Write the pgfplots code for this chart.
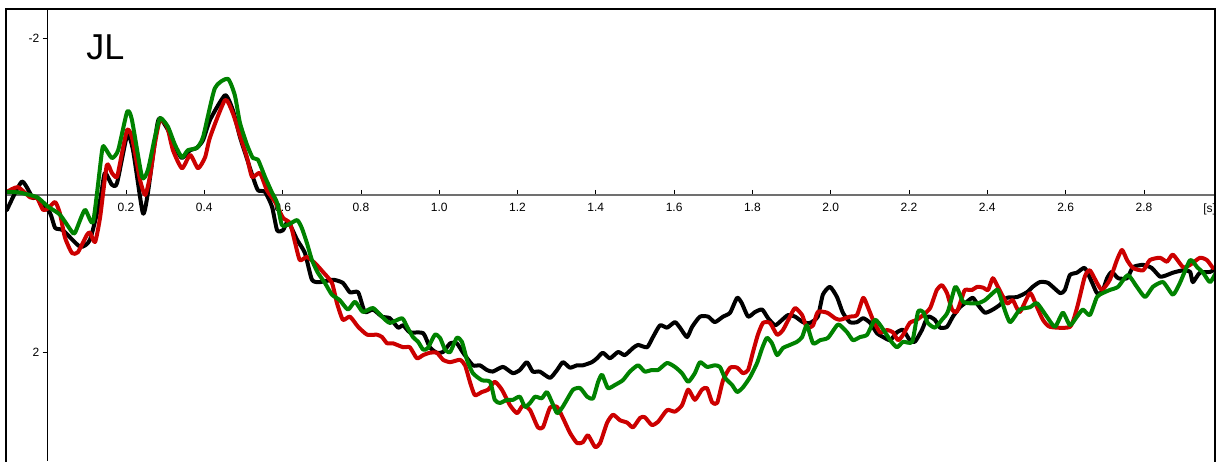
\documentclass[border=0pt]{standalone}
\usepackage{fontspec}
\setmainfont{Liberation Sans}
\usepackage{pgfplots}
\pgfplotsset{compat=1.18}
\usetikzlibrary{calc}
\definecolor{cRed}{RGB}{204,0,0}
\definecolor{cGreen}{RGB}{0,130,0}
\definecolor{cAxis}{RGB}{112,112,112}
\begin{document}
\begin{tikzpicture}
\begin{axis}[name=ax, scale only axis, width=604.5pt, height=226pt,
  xmin=-0.1065, xmax=2.9816, ymin=-2.369, ymax=3.389, y dir=reverse,
  axis lines=middle, axis line style={-},
  x axis line style={cAxis, line width=0.8pt},
  y axis line style={black, line width=0.5pt},
  xtick={0.2,0.4,0.6,0.8,1.0,1.2,1.4,1.6,1.8,2.0,2.2,2.4,2.6,2.8},
  xticklabels={0.2,0.4,0.6,0.8,1.0,1.2,1.4,1.6,1.8,2.0,2.2,2.4,2.6,2.8},
  ytick={-2,2}, yticklabels={-2,2},
  tick style={black, line width=0.4pt}, major tick length=2.5pt, tick align=outside,
  ticklabel style={font=\fontsize{6}{7}\selectfont, inner sep=0pt},
  xticklabel style={yshift=-1.5pt}, yticklabel style={xshift=-1.5pt},
  clip=true,
  every axis plot/.append style={line width=2pt, line join=round, line cap=round, smooth, tension=0.35},
]
\addplot[black] coordinates {(-0.104,0.19) (-0.066,-0.17) (-0.038,0.04) (-0.027,0.03) (0.006,0.23) (0.019,0.42) (0.039,0.45) (0.083,0.66) (0.108,0.57) (0.134,0.06) (0.146,-0.28) (0.164,-0.13) (0.177,-0.15) (0.203,-0.76) (0.218,-0.57) (0.243,0.23) (0.256,-0.03) (0.279,-0.87) (0.287,-0.98) (0.307,-0.83) (0.330,-0.57) (0.343,-0.47) (0.364,-0.57) (0.381,-0.60) (0.397,-0.70) (0.415,-0.96) (0.453,-1.27) (0.473,-1.08) (0.491,-0.74) (0.504,-0.54) (0.524,-0.23) (0.537,-0.06) (0.555,-0.04) (0.573,0.15) (0.586,0.45) (0.601,0.45) (0.614,0.34) (0.637,0.57) (0.657,0.74) (0.675,1.08) (0.695,1.11) (0.729,1.08) (0.754,1.12) (0.772,1.24) (0.793,1.24) (0.810,1.49) (0.831,1.46) (0.854,1.55) (0.874,1.57) (0.895,1.69) (0.908,1.66) (0.925,1.75) (0.959,1.76) (0.976,1.94) (0.994,2.01) (1.010,2.00) (1.028,1.89) (1.045,1.89) (1.061,2.01) (1.086,2.17) (1.104,2.17) (1.122,2.23) (1.137,2.25) (1.163,2.19) (1.188,2.27) (1.206,2.23) (1.224,2.13) (1.239,2.25) (1.257,2.25) (1.283,2.33) (1.301,2.23) (1.316,2.13) (1.334,2.20) (1.352,2.17) (1.367,2.17) (1.390,2.13) (1.403,2.08) (1.418,2.01) (1.436,2.08) (1.457,2.00) (1.474,2.04) (1.495,1.95) (1.508,1.91) (1.531,1.94) (1.546,1.81) (1.564,1.66) (1.582,1.69) (1.602,1.62) (1.615,1.69) (1.633,1.81) (1.646,1.68) (1.666,1.55) (1.687,1.55) (1.704,1.62) (1.725,1.55) (1.743,1.50) (1.761,1.31) (1.773,1.38) (1.789,1.55) (1.807,1.49) (1.825,1.46) (1.840,1.57) (1.858,1.66) (1.876,1.59) (1.891,1.53) (1.909,1.55) (1.929,1.62) (1.947,1.63) (1.967,1.55) (1.980,1.27) (1.998,1.17) (2.016,1.30) (2.031,1.50) (2.049,1.62) (2.067,1.62) (2.083,1.57) (2.101,1.63) (2.118,1.76) (2.134,1.81) (2.152,1.85) (2.169,1.75) (2.185,1.72) (2.202,1.85) (2.215,1.87) (2.233,1.72) (2.248,1.55) (2.266,1.59) (2.279,1.69) (2.297,1.68) (2.312,1.55) (2.330,1.43) (2.348,1.36) (2.363,1.31) (2.376,1.40) (2.394,1.50) (2.414,1.46) (2.432,1.40) (2.450,1.31) (2.476,1.30) (2.501,1.24) (2.516,1.17) (2.534,1.11) (2.555,1.12) (2.586,1.25) (2.598,1.21) (2.611,1.02) (2.629,0.99) (2.649,0.93) (2.667,1.11) (2.680,1.25) (2.693,1.24) (2.706,1.06) (2.718,0.98) (2.734,1.06) (2.757,1.06) (2.772,0.92) (2.798,0.89) (2.820,0.93) (2.841,1.04) (2.859,1.02) (2.874,0.99) (2.900,0.96) (2.918,0.98) (2.925,1.11) (2.943,0.99) (2.969,0.98) (2.987,0.93)};
\addplot[cRed] coordinates {(-0.104,-0.04) (-0.076,-0.10) (-0.045,0.03) (-0.027,0.04) (-0.012,0.19) (0.001,0.17) (0.019,0.09) (0.031,0.23) (0.044,0.54) (0.062,0.74) (0.077,0.73) (0.100,0.51) (0.108,0.48) (0.121,0.60) (0.134,0.28) (0.151,-0.38) (0.164,-0.28) (0.177,-0.23) (0.190,-0.54) (0.203,-0.83) (0.215,-0.74) (0.236,-0.19) (0.249,0) (0.261,-0.23) (0.274,-0.66) (0.287,-0.96) (0.305,-0.87) (0.320,-0.57) (0.343,-0.34) (0.364,-0.51) (0.384,-0.34) (0.402,-0.48) (0.415,-0.74) (0.453,-1.21) (0.473,-1.04) (0.491,-0.76) (0.509,-0.48) (0.522,-0.23) (0.542,-0.28) (0.560,-0.06) (0.581,0.09) (0.601,0.29) (0.619,0.36) (0.632,0.61) (0.644,0.83) (0.662,0.79) (0.683,0.87) (0.703,0.98) (0.726,1.12) (0.739,1.38) (0.754,1.59) (0.772,1.55) (0.793,1.68) (0.816,1.78) (0.841,1.78) (0.854,1.81) (0.867,1.89) (0.882,1.89) (0.908,1.94) (0.925,1.94) (0.943,2.08) (0.959,2.04) (0.976,2.01) (0.994,2.01) (1.010,2.10) (1.028,2.13) (1.053,2.10) (1.066,2.17) (1.079,2.39) (1.091,2.55) (1.109,2.51) (1.125,2.48) (1.142,2.38) (1.160,2.48) (1.181,2.68) (1.199,2.78) (1.214,2.68) (1.232,2.74) (1.252,2.96) (1.265,2.96) (1.283,2.71) (1.301,2.70) (1.316,2.84) (1.334,3.03) (1.352,3.16) (1.367,3.15) (1.380,3.06) (1.398,3.21) (1.411,3.16) (1.429,2.90) (1.444,2.80) (1.462,2.87) (1.480,2.90) (1.495,2.96) (1.513,2.84) (1.525,2.83) (1.543,2.93) (1.559,2.89) (1.582,2.74) (1.602,2.76) (1.620,2.68) (1.636,2.48) (1.653,2.61) (1.671,2.48) (1.684,2.46) (1.697,2.64) (1.710,2.65) (1.725,2.36) (1.743,2.20) (1.761,2.20) (1.776,2.27) (1.789,2.23) (1.801,2.01) (1.814,1.78) (1.827,1.63) (1.845,1.63) (1.863,1.78) (1.878,1.72) (1.896,1.55) (1.909,1.44) (1.927,1.53) (1.939,1.69) (1.955,1.66) (1.967,1.49) (1.991,1.50) (2.011,1.57) (2.024,1.59) (2.049,1.55) (2.067,1.53) (2.083,1.31) (2.095,1.43) (2.108,1.59) (2.126,1.75) (2.144,1.72) (2.159,1.75) (2.172,1.85) (2.185,1.78) (2.202,1.63) (2.220,1.59) (2.236,1.53) (2.254,1.44) (2.271,1.21) (2.284,1.15) (2.297,1.25) (2.310,1.46) (2.322,1.49) (2.335,1.31) (2.343,1.21) (2.361,1.21) (2.374,1.17) (2.389,1.18) (2.402,1.21) (2.414,1.06) (2.427,1.17) (2.450,1.38) (2.465,1.34) (2.483,1.49) (2.509,1.25) (2.527,1.43) (2.542,1.59) (2.560,1.68) (2.611,1.68) (2.629,1.44) (2.649,1.04) (2.662,0.96) (2.680,1.12) (2.693,1.21) (2.713,1.08) (2.731,0.83) (2.744,0.70) (2.757,0.83) (2.772,0.93) (2.798,0.96) (2.815,0.83) (2.841,0.80) (2.859,0.85) (2.874,0.76) (2.900,0.92) (2.918,0.89) (2.943,0.80) (2.961,0.83) (2.976,0.93)};
\addplot[cGreen] coordinates {(-0.104,-0.04) (-0.071,-0.03) (-0.027,0.03) (0.001,0.15) (0.031,0.25) (0.062,0.47) (0.070,0.48) (0.095,0.19) (0.116,0.34) (0.139,-0.57) (0.146,-0.60) (0.164,-0.47) (0.180,-0.57) (0.203,-1.06) (0.215,-0.96) (0.241,-0.23) (0.256,-0.32) (0.274,-0.74) (0.287,-0.98) (0.307,-0.87) (0.325,-0.64) (0.343,-0.48) (0.358,-0.57) (0.381,-0.60) (0.397,-0.74) (0.427,-1.36) (0.460,-1.48) (0.478,-1.27) (0.491,-0.92) (0.509,-0.64) (0.524,-0.47) (0.537,-0.45) (0.555,-0.23) (0.573,-0.03) (0.586,0.10) (0.598,0.38) (0.614,0.38) (0.637,0.32) (0.649,0.42) (0.662,0.61) (0.675,0.83) (0.690,0.99) (0.708,1.12) (0.726,1.27) (0.746,1.34) (0.767,1.46) (0.785,1.36) (0.805,1.49) (0.831,1.44) (0.854,1.55) (0.874,1.63) (0.905,1.57) (0.918,1.68) (0.933,1.81) (0.946,1.87) (0.959,1.97) (0.971,1.95) (0.989,1.78) (1.002,1.82) (1.015,1.97) (1.028,2.00) (1.045,1.82) (1.058,1.87) (1.071,2.10) (1.086,2.27) (1.109,2.36) (1.130,2.38) (1.142,2.61) (1.155,2.65) (1.173,2.61) (1.188,2.61) (1.206,2.57) (1.219,2.70) (1.232,2.65) (1.245,2.57) (1.262,2.59) (1.275,2.51) (1.288,2.64) (1.301,2.78) (1.314,2.71) (1.326,2.61) (1.342,2.48) (1.360,2.46) (1.378,2.57) (1.393,2.59) (1.406,2.38) (1.416,2.29) (1.431,2.46) (1.449,2.42) (1.469,2.36) (1.487,2.25) (1.508,2.17) (1.525,2.25) (1.543,2.23) (1.559,2.23) (1.582,2.14) (1.602,2.19) (1.620,2.27) (1.636,2.38) (1.653,2.27) (1.666,2.13) (1.684,2.19) (1.704,2.17) (1.717,2.19) (1.730,2.33) (1.748,2.42) (1.761,2.51) (1.776,2.45) (1.794,2.32) (1.812,2.14) (1.825,1.95) (1.837,1.82) (1.850,1.89) (1.863,2.04) (1.878,1.95) (1.896,1.91) (1.914,1.87) (1.927,1.81) (1.939,1.66) (1.955,1.89) (1.973,1.85) (1.993,1.82) (2.016,1.66) (2.024,1.66) (2.042,1.75) (2.057,1.85) (2.075,1.81) (2.093,1.78) (2.113,1.59) (2.131,1.69) (2.152,1.85) (2.169,1.94) (2.185,1.87) (2.208,1.87) (2.223,1.49) (2.236,1.49) (2.248,1.63) (2.266,1.69) (2.284,1.59) (2.299,1.49) (2.317,1.18) (2.325,1.21) (2.338,1.36) (2.356,1.38) (2.376,1.38) (2.394,1.34) (2.414,1.25) (2.427,1.21) (2.440,1.40) (2.458,1.62) (2.483,1.46) (2.509,1.43) (2.527,1.38) (2.552,1.55) (2.573,1.68) (2.593,1.50) (2.611,1.66) (2.629,1.55) (2.644,1.46) (2.662,1.53) (2.680,1.30) (2.695,1.25) (2.713,1.21) (2.734,1.17) (2.759,1.02) (2.782,1.17) (2.803,1.30) (2.823,1.17) (2.849,1.11) (2.874,1.27) (2.892,1.12) (2.918,0.83) (2.936,0.92) (2.951,0.99) (2.969,1.11) (2.987,0.96)};
\node[anchor=west, inner sep=0pt, font=\fontsize{18}{20}\selectfont] at (axis cs:0.098,-1.885) {JL};
\node[anchor=north, inner sep=0pt, yshift=-4pt, font=\fontsize{6}{7}\selectfont] at (axis cs:2.968,0) {[s]};
\end{axis}
\draw[line width=1pt, line cap=rect] (ax.south west) -- (ax.north west) -- (ax.north east) -- (ax.south east);
\pgfresetboundingbox
\path ([xshift=-3pt]ax.south west) rectangle ([xshift=2pt,yshift=4.5pt]ax.north east);
\end{tikzpicture}
\end{document}
